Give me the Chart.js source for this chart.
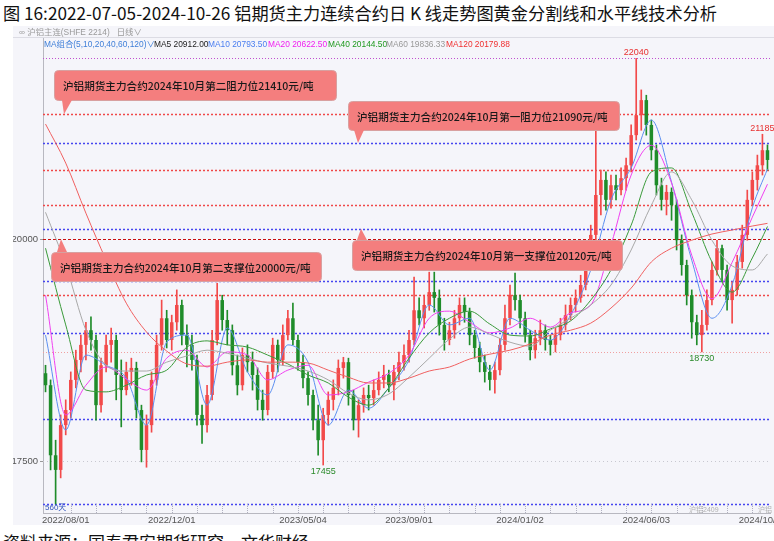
<!DOCTYPE html>
<html>
<head>
<meta charset="utf-8">
<script src="https://cdn.jsdelivr.net/npm/chart.js@4.4.1/dist/chart.umd.min.js"></script>
<style>
    body { margin:0; width:774px; height:541px; overflow:hidden; background:#fff; position:relative;
           font-family:"Liberation Sans","Noto Sans CJK SC",sans-serif; }
    #title { position:absolute; left:3px; top:0px; font-size:17.2px; color:#111; white-space:nowrap;
             font-family:"Noto Sans CJK SC",sans-serif; }
    #panel { position:absolute; left:13px; top:26px; width:761px; height:499px; background:#f5f5fa; }
    #panel canvas { position:absolute; left:0; top:0; }
    .t { position:absolute; white-space:nowrap; font-size:8.4px; line-height:11px; }
    #sep { position:absolute; left:0; top:11px; width:761px; height:1px; background:#dcdce4; }
    #source { position:absolute; left:3px; top:529px; font-size:17px; color:#111; white-space:nowrap;
              font-family:"Noto Sans CJK SC",sans-serif; }
</style>
</head>
<body>
<div id="title">图 16:2022-07-05-2024-10-26 铝期货主力连续合约日 K 线走势图黄金分割线和水平线技术分析</div>
<div id="panel">
    <canvas id="kline" width="761" height="499"></canvas>
    <div class="t" style="left:6px;top:1px;color:#999">∞ 沪铝主连(SHFE 2214) &nbsp; 日线∨</div>
    <div id="sep"></div>
    <div class="t" style="left:31px;top:13px;color:#3f7fd8">MA组合(5,10,20,40,60,120)∨</div>
    <div class="t" style="left:141px;top:13px;color:#222">MA5 20912.00</div>
    <div class="t" style="left:195px;top:13px;color:#4a7ef0">MA10 20793.50</div>
    <div class="t" style="left:255px;top:13px;color:#f020f0">MA20 20622.50</div>
    <div class="t" style="left:315px;top:13px;color:#1f9a1f">MA40 20144.50</div>
    <div class="t" style="left:373px;top:13px;color:#999">MA60 19836.33</div>
    <div class="t" style="left:433px;top:13px;color:#f03030">MA120 20179.88</div>
    <div class="t" style="left:32px;top:476px;font-size:8px;color:#3355bb">560天</div>
    <div class="t" style="left:676px;top:478px;font-size:7px;color:#b0b0b0">沪铝2409</div>
    <div class="t" style="left:745px;top:478px;font-size:7px;color:#b0b0b0">沪铝</div>
</div>
<div id="source">资料来源：国泰君安期货研究，文华财经</div>

<script>
// K线数据 (约4个交易日一根, 从图上读出)
var opens = [18490,18355,17565,17400,17905,18075,18415,18640,18810,18975,
    18865,18130,18580,18810,18865,18470,18300,18505,18550,18075,
    17625,17905,18415,18810,19110,18865,19065,19260,18920,18810,
    18640,18020,17905,18245,18865,19315,19090,18975,18580,18355,
    18695,18615,18470,18190,18075,18505,18810,18640,18920,19110,
    18865,18615,18435,18245,17960,17735,18020,18190,18325,18550,
    18615,18245,17960,18130,18245,18210,18300,18415,18470,18355,
    18505,18615,18695,18865,19200,19110,19260,19405,19340,19035,
    18865,18975,19110,19260,19180,18920,18775,18615,18505,18415,
    18525,18810,19110,19370,19315,19110,18920,18750,18885,18975,
    18865,18810,18920,19035,19145,19260,19340,19485,19765,20050,
    20500,20670,20445,20610,20555,20690,20835,21175,21400,21570,
    21290,21005,20610,20445,20535,20385,19990,19710,19370,19065,
    18920,19035,19315,19655,19900,19655,19315,19430,19745,20050,
    20445,20670,20835,21005];
var closes = [18355,17565,17400,17905,18075,18415,18640,18810,18975,18865,
    18130,18580,18810,18865,18470,18300,18505,18550,18075,17625,
    17905,18415,18810,19110,18865,19065,19260,18920,18810,18640,
    18020,17905,18245,18865,19315,19090,18975,18580,18355,18695,
    18615,18470,18190,18075,18505,18810,18640,18920,19110,18865,
    18615,18435,18245,17960,17735,18020,18190,18325,18550,18615,
    18245,17960,18130,18245,18210,18300,18415,18470,18355,18505,
    18615,18695,18865,19200,19110,19260,19405,19340,19035,18865,
    18975,19110,19260,19180,18920,18775,18615,18505,18415,18525,
    18810,19110,19370,19315,19110,18920,18750,18885,18975,18865,
    18810,18920,19035,19145,19260,19340,19485,19765,20050,20500,
    20670,20445,20610,20555,20690,20835,21175,21400,21570,21290,
    21005,20610,20445,20535,20385,19990,19710,19370,19065,18920,
    19035,19315,19655,19900,19655,19315,19430,19745,20050,20445,
    20670,20835,21005,20895];
var highs = [18580,18415,17735,18020,18190,18505,18750,18920,19065,19125,
    18920,18660,18920,19000,18920,18640,18615,18660,18615,18130,
    18020,18505,18920,19315,19200,19145,19430,19315,19035,18920,
    18695,18130,18355,18975,19505,19370,19200,19035,18695,18775,
    18810,18730,18550,18300,18580,18885,18865,19035,19200,19280,
    18920,18695,18505,18300,18130,18095,18280,18415,18640,18670,
    18660,18300,18190,18325,18355,18415,18505,18580,18525,18580,
    18730,18810,18975,19575,19340,19370,19630,19630,19430,19110,
    19065,19200,19340,19340,19225,18975,18840,18695,18580,18615,
    18885,19260,19485,19620,19370,19180,18975,18975,19090,19035,
    18920,19000,19110,19260,19340,19430,19595,19880,20160,21230,
    20780,20760,20725,20725,20805,20915,21290,22040,21685,21625,
    21345,21065,20690,20610,20580,20445,20050,19765,19430,19145,
    19200,19430,19745,19990,19935,19710,19520,19820,20160,20555,
    20760,20950,21185,21065];
var lows = [18280,17400,17015,17310,17795,17985,18325,18505,18640,18750,
    17960,18050,18505,18615,18190,17885,18245,18355,17985,17490,
    17430,17825,18355,18750,18775,18750,18975,18810,18560,18525,
    17905,17700,17825,18190,18810,18975,18810,18470,18245,18300,
    18505,18300,18075,17960,18020,18435,18505,18580,18865,18810,
    18525,18325,18130,17850,17565,17455,17905,18075,18245,18435,
    18130,17850,17770,18050,18075,18130,18245,18325,18280,18190,
    18415,18525,18615,18810,19035,19000,19200,19180,18920,18750,
    18810,18885,19035,19065,18810,18660,18505,18390,18300,18265,
    18470,18750,19035,19200,19000,18840,18640,18660,18810,18750,
    18695,18730,18865,18975,19090,19180,19290,19430,19710,19990,
    20275,20330,20350,20445,20500,20555,20760,21120,21230,21175,
    20895,20500,20330,20275,20215,19880,19595,19260,18885,18810,
    18730,18975,19260,19595,19520,19200,19055,19370,19675,19990,
    20385,20555,20725,20780];

// 均线 (每4根取一个点读数)
var maIdx = [0,4,8,12,16,20,24,28,32,36,40,44,48,52,56,60,64,68,72,76,80,84,88,92,96,100,104,108,112,116,120,124,128,132,136,140,143];
var ma10 = [18920,17850,18695,18580,18435,17905,18840,18920,18130,19000,18505,18245,18810,18615,17905,18300,18095,18325,18640,19260,19035,19110,18525,19110,18975,18865,19145,19655,20445,20805,21345,20645,19765,19110,19485,20355,20794];
var ma20 = [19370,18020,18355,18560,18425,18300,18660,18750,18560,18730,18695,18415,18525,18580,18245,18280,18390,18490,18695,19110,19190,19065,18945,19000,19110,19010,19170,19260,19935,20725,21060,20635,19820,19330,19740,20250,20622];
var ma40 = [19900,19035,18300,18280,18355,18470,18525,18785,18855,18810,18785,18695,18595,18470,18380,18220,18130,18325,18660,18945,19110,19190,19045,18920,18910,18990,19080,19315,19655,20160,20760,20805,20305,19745,19405,19790,20145];
var ma60 = [20305,19710,18975,18580,18515,18515,18615,18685,18750,18715,18660,18605,18570,18515,18415,18265,18190,18255,18445,18660,18875,19010,18930,18840,18795,18975,19110,19260,19485,19880,20385,20760,20445,19990,19700,19655,19835];
var ma120 = [21300,20860,20295,19765,19280,18955,18740,18595,18570,18615,18640,18615,18615,18605,18525,18445,18380,18380,18435,18515,18560,18650,18705,18750,18820,18920,18975,19055,19225,19450,19745,19900,19990,20060,20105,20150,20180];

// 刻度
var yTicks = [17500, 20000];
var xTickIdx = [4, 25, 51, 72, 94, 119, 142];
var xTickText = ['2022/08/01', '2022/12/01', '2023/05/04', '2023/09/01', '2024/01/02', '2024/06/03', '2024/10/08'];

// 水平线 / 黄金分割
var goldenLevels = [17015, 17975, 18940, 19530, 20120, 21085];
var goldenTop = 22040;
var redLevels = [21410, 20780, 20385, 19370];
var keyLevel = 20000;
var lowLevel = 18730;

var calloutTexts = [
    '沪铝期货主力合约2024年10月第二阻力位21410元/吨',
    '沪铝期货主力合约2024年10月第一阻力位21090元/吨',
    '沪铝期货主力合约2024年10月第二支撑位20000元/吨',
    '沪铝期货主力合约2024年10月第一支撑位20120元/吨'
];
var calloutLevels = [21410, 21085, 20000, 20120];

var extremes = [
    { idx: 117, value: 22040, up: true },
    { idx: 142, value: 21185, up: true },
    { idx: 55, value: 17455, up: false },
    { idx: 130, value: 18730, up: false }
];

var OX = 13, OY = 26;   // canvas offset on page
var RED = '#f24a4a', GREEN = '#1f8c2a';

var labels = [], wickData = [], bodyData = [], candleColors = [];
for (var i = 0; i < opens.length; i++) {
    labels.push(String(i));
    wickData.push([lows[i], highs[i]]);
    bodyData.push([opens[i], closes[i]]);
    candleColors.push(closes[i] >= opens[i] ? RED : GREEN);
}

function maSeries(vals) {
    var arr = [];
    for (var i = 0; i < opens.length; i++) arr.push(null);
    for (var j = 0; j < maIdx.length; j++) arr[maIdx[j]] = vals[j];
    return arr;
}

function maLine(vals, color) {
    return { type: 'line', data: maSeries(vals), borderColor: color, borderWidth: 1, pointRadius: 0,
             spanGaps: true, cubicInterpolationMode: 'monotone', order: 0 };
}

var levelsPlugin = {
    id: 'levels',
    beforeDatasetsDraw: function (chart) {
        var ctx = chart.ctx, a = chart.chartArea, y = chart.scales.y;
        function hline(v, color, dash, w) {
            var py = Math.round(y.getPixelForValue(v)) + 0.5;
            ctx.strokeStyle = color; ctx.setLineDash(dash); ctx.lineWidth = w;
            ctx.beginPath(); ctx.moveTo(a.left, py); ctx.lineTo(a.right, py); ctx.stroke();
        }
        ctx.save();
        hline(17500, '#c8c8d0', [1, 3], 1);
        hline(lowLevel, '#f0a0a0', [1, 2], 1);
        goldenLevels.forEach(function (v) { hline(v, '#4646f0', [2, 2], 1.5); });
        hline(goldenTop, '#c050d0', [1, 2], 1);
        redLevels.forEach(function (v) { hline(v, '#f04848', [2, 2], 1.5); });
        hline(keyLevel, '#c81010', [3, 2], 1.2);
        ctx.restore();
    },
    afterDraw: function (chart) {
        var ctx = chart.ctx, a = chart.chartArea, y = chart.scales.y, x = chart.scales.x;
        ctx.save();
        // axis line up to header
        ctx.strokeStyle = '#b8b8c0'; ctx.lineWidth = 1;
        ctx.beginPath(); ctx.moveTo(a.left + 0.5, 12); ctx.lineTo(a.left + 0.5, a.top); ctx.stroke();

        // small ticks on bottom axis
        ctx.strokeStyle = '#b0b0c0'; ctx.setLineDash([1, 1]);
        for (var k = 5; k < opens.length; k += 5) {
            var tx = Math.round(x.getPixelForValue(k)) + 0.5;
            ctx.beginPath(); ctx.moveTo(tx, a.bottom - 9); ctx.lineTo(tx, a.bottom); ctx.stroke();
        }
        ctx.setLineDash([]);

        // high / low labels
        ctx.font = '9px "Liberation Sans", sans-serif';
        ctx.textAlign = 'center';
        extremes.forEach(function (e) {
            var px = x.getPixelForValue(e.idx), py = y.getPixelForValue(e.value);
            ctx.fillStyle = e.up ? '#e83030' : '#2a8a2a';
            ctx.textBaseline = e.up ? 'bottom' : 'top';
            ctx.fillText(String(e.value), px, e.up ? py - 1 : py + 2);
        });

        // callouts
        var boxes = [
            { b: [54, 70, 336, 100], t: [62, 72, 64] },
            { b: [348, 101, 619, 130], t: [354, 364, 358] },
            { b: [51, 252, 321, 281], t: [57, 67, 61] },
            { b: [352, 240, 622, 270], t: [357, 367, 361] }
        ];
        boxes.forEach(function (c, n) {
            var l = c.b[0] - OX, tp = c.b[1] - OY, r = c.b[2] - OX, bt = c.b[3] - OY;
            var tipY = y.getPixelForValue(calloutLevels[n]);
            var down = tipY > bt;
            ctx.fillStyle = '#f47e7e';
            ctx.strokeStyle = '#d8a0a0';
            ctx.lineWidth = 1;
            ctx.beginPath();
            ctx.roundRect(l + 0.5, tp + 0.5, r - l, bt - tp, 4);
            ctx.fill(); ctx.stroke();
            ctx.beginPath();
            var baseY = down ? bt : tp;
            ctx.moveTo(c.t[0] - OX, baseY);
            ctx.lineTo(c.t[2] - OX, tipY);
            ctx.lineTo(c.t[1] - OX, baseY);
            ctx.closePath();
            ctx.fill();
            ctx.fillStyle = '#1a1a1a';
            ctx.font = '500 10.6px "Noto Sans CJK SC", sans-serif';
            ctx.textAlign = 'left'; ctx.textBaseline = 'middle';
            ctx.fillText(calloutTexts[n], l + 9, (tp + bt) / 2 + 1);
        });
        ctx.restore();
    }
};

new Chart(document.getElementById('kline'), {
    type: 'bar',
    data: {
        labels: labels,
        datasets: [
            maLine(ma120, '#f06060'),
            maLine(ma60, '#a8a8a8'),
            maLine(ma40, '#3a9a3a'),
            maLine(ma20, '#f040f0'),
            maLine(ma10, '#5b8ff0'),
            { data: wickData, backgroundColor: candleColors, barThickness: 1, grouped: false, order: 3 },
            { data: bodyData, backgroundColor: candleColors, barPercentage: 0.7, categoryPercentage: 1,
              minBarLength: 1, grouped: false, order: 2 }
        ]
    },
    options: {
        responsive: false, animation: false,
        layout: { padding: { top: 24, right: 4, left: 0, bottom: 0 } },
        plugins: { legend: { display: false }, tooltip: { enabled: false } },
        scales: {
            x: {
                offset: true,
                grid: { display: false, drawTicks: false },
                border: { color: '#b8b8c0' },
                ticks: {
                    autoSkip: false, maxRotation: 0, padding: 2, color: '#555',
                    font: { size: 9.5, family: '"Liberation Sans", sans-serif' },
                    callback: function (v, i) {
                        var p = xTickIdx.indexOf(i);
                        return p >= 0 ? xTickText[p] : '';
                    }
                },
                afterFit: function (s) { s.height = 12; }
            },
            y: {
                min: 16914, max: 22135,
                afterBuildTicks: function (s) { s.ticks = yTicks.map(function (v) { return { value: v }; }); },
                afterFit: function (s) { s.width = 30; },
                grid: { drawOnChartArea: false, tickLength: 3, color: '#999' },
                border: { color: '#b8b8c0' },
                ticks: { padding: 2, color: '#555', font: { size: 9.5, family: '"Liberation Sans", sans-serif' },
                         callback: function (v) { return String(v); } }
            }
        }
    },
    plugins: [levelsPlugin]
});
</script>
</body>
</html>
